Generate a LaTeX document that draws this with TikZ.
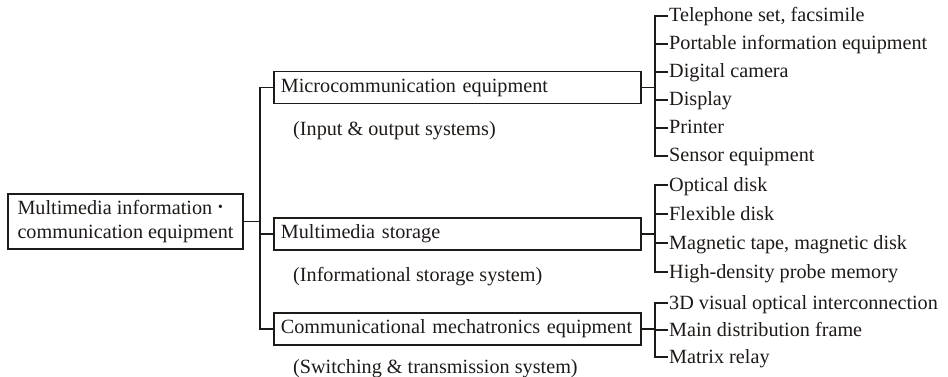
\documentclass[tikz,border=0pt]{standalone}
\usepackage{fontspec}
\setmainfont{Liberation Serif}
\begin{document}
\begin{tikzpicture}[x=1pt,y=-1pt,
  every node/.style={font=\fontsize{20.2}{24}\selectfont, text=ink},
  rootbox/.style={draw=ink, line width=1.8pt, minimum width=235pt, minimum height=55pt,
    align=left, inner sep=0pt},
  catbox/.style={draw=ink, line width=1.8pt, anchor=west, minimum height=32pt,
    text width=357pt, inner xsep=5pt, inner ysep=0pt, align=left},
  note/.style={anchor=west, inner sep=0pt},
  leaf/.style={anchor=west, inner xsep=1pt, inner ysep=0pt, text height=14pt, text depth=2pt},
  link/.style={draw=ink, line width=1.5pt}]
\definecolor{ink}{HTML}{1E1A18}
\useasboundingbox (0,0) rectangle (948,377);

% root
\node[rootbox] (root) at (125.5,221.5) {Multimedia information \raisebox{1pt}{\textbf{·}}\\communication equipment};

% three categories
\node[catbox] (mc) at (273,87.5) {\hspace{2pt}Microcommunication equipment};
\node[catbox] (ms) at (273,234) {\hspace{2pt}Multimedia storage};
\node[catbox] (cm) at (273,329) {\hspace{2pt}Communicational mechatronics equipment};

\node[note] (mcn) at (293,131) {(Input \& output systems)};
\node[note] (msn) at (293,277) {(Informational storage system)};
\node[note] (cmn) at (293,369) {(Switching \& transmission system)};

% trunk
\coordinate (trunk) at (260,0);
\draw[link] (mc.west) -- (mc.west -| trunk) -- (cm.west -| trunk) -- (cm.west);
\draw[link] (root.east) -- (root.east -| trunk);
\draw[link] (ms.west) -- (ms.west -| trunk);

% leaves
\coordinate (br) at (655,0);
\node[leaf] (a1) at (668,16) {Telephone set, facsimile};
\node[leaf] (a2) at (668,44) {Portable information equipment};
\node[leaf] (a3) at (668,72) {Digital camera};
\node[leaf] (a4) at (668,100) {Display};
\node[leaf] (a5) at (668,128) {Printer};
\node[leaf] (a6) at (668,156) {Sensor equipment};

\node[leaf] (b1) at (668,185) {Optical disk};
\node[leaf] (b2) at (668,214) {Flexible disk};
\node[leaf] (b3) at (668,243) {Magnetic tape, magnetic disk};
\node[leaf] (b4) at (668,272) {High-density probe memory};

\node[leaf] (c1) at (668,303) {3D visual optical interconnection};
\node[leaf] (c2) at (668,330) {Main distribution frame};
\node[leaf] (c3) at (668,357) {Matrix relay};

% branches
\draw[link] (mc.east) -- (mc.east -| br);
\draw[link] (a1.west) -- (a1.west -| br) -- (a6.west -| br) -- (a6.west);
\foreach \n in {a2,a3,a4,a5} \draw[link] (\n.west) -- (\n.west -| br);

\draw[link] (ms.east) -- (ms.east -| br);
\draw[link] (b1.west) -- (b1.west -| br) -- (b4.west -| br) -- (b4.west);
\foreach \n in {b2,b3} \draw[link] (\n.west) -- (\n.west -| br);

\draw[link] (cm.east) -- (cm.east -| br);
\draw[link] (c1.west) -- (c1.west -| br) -- (c3.west -| br) -- (c3.west);
\draw[link] (c2.west) -- (c2.west -| br);
\end{tikzpicture}
\end{document}
